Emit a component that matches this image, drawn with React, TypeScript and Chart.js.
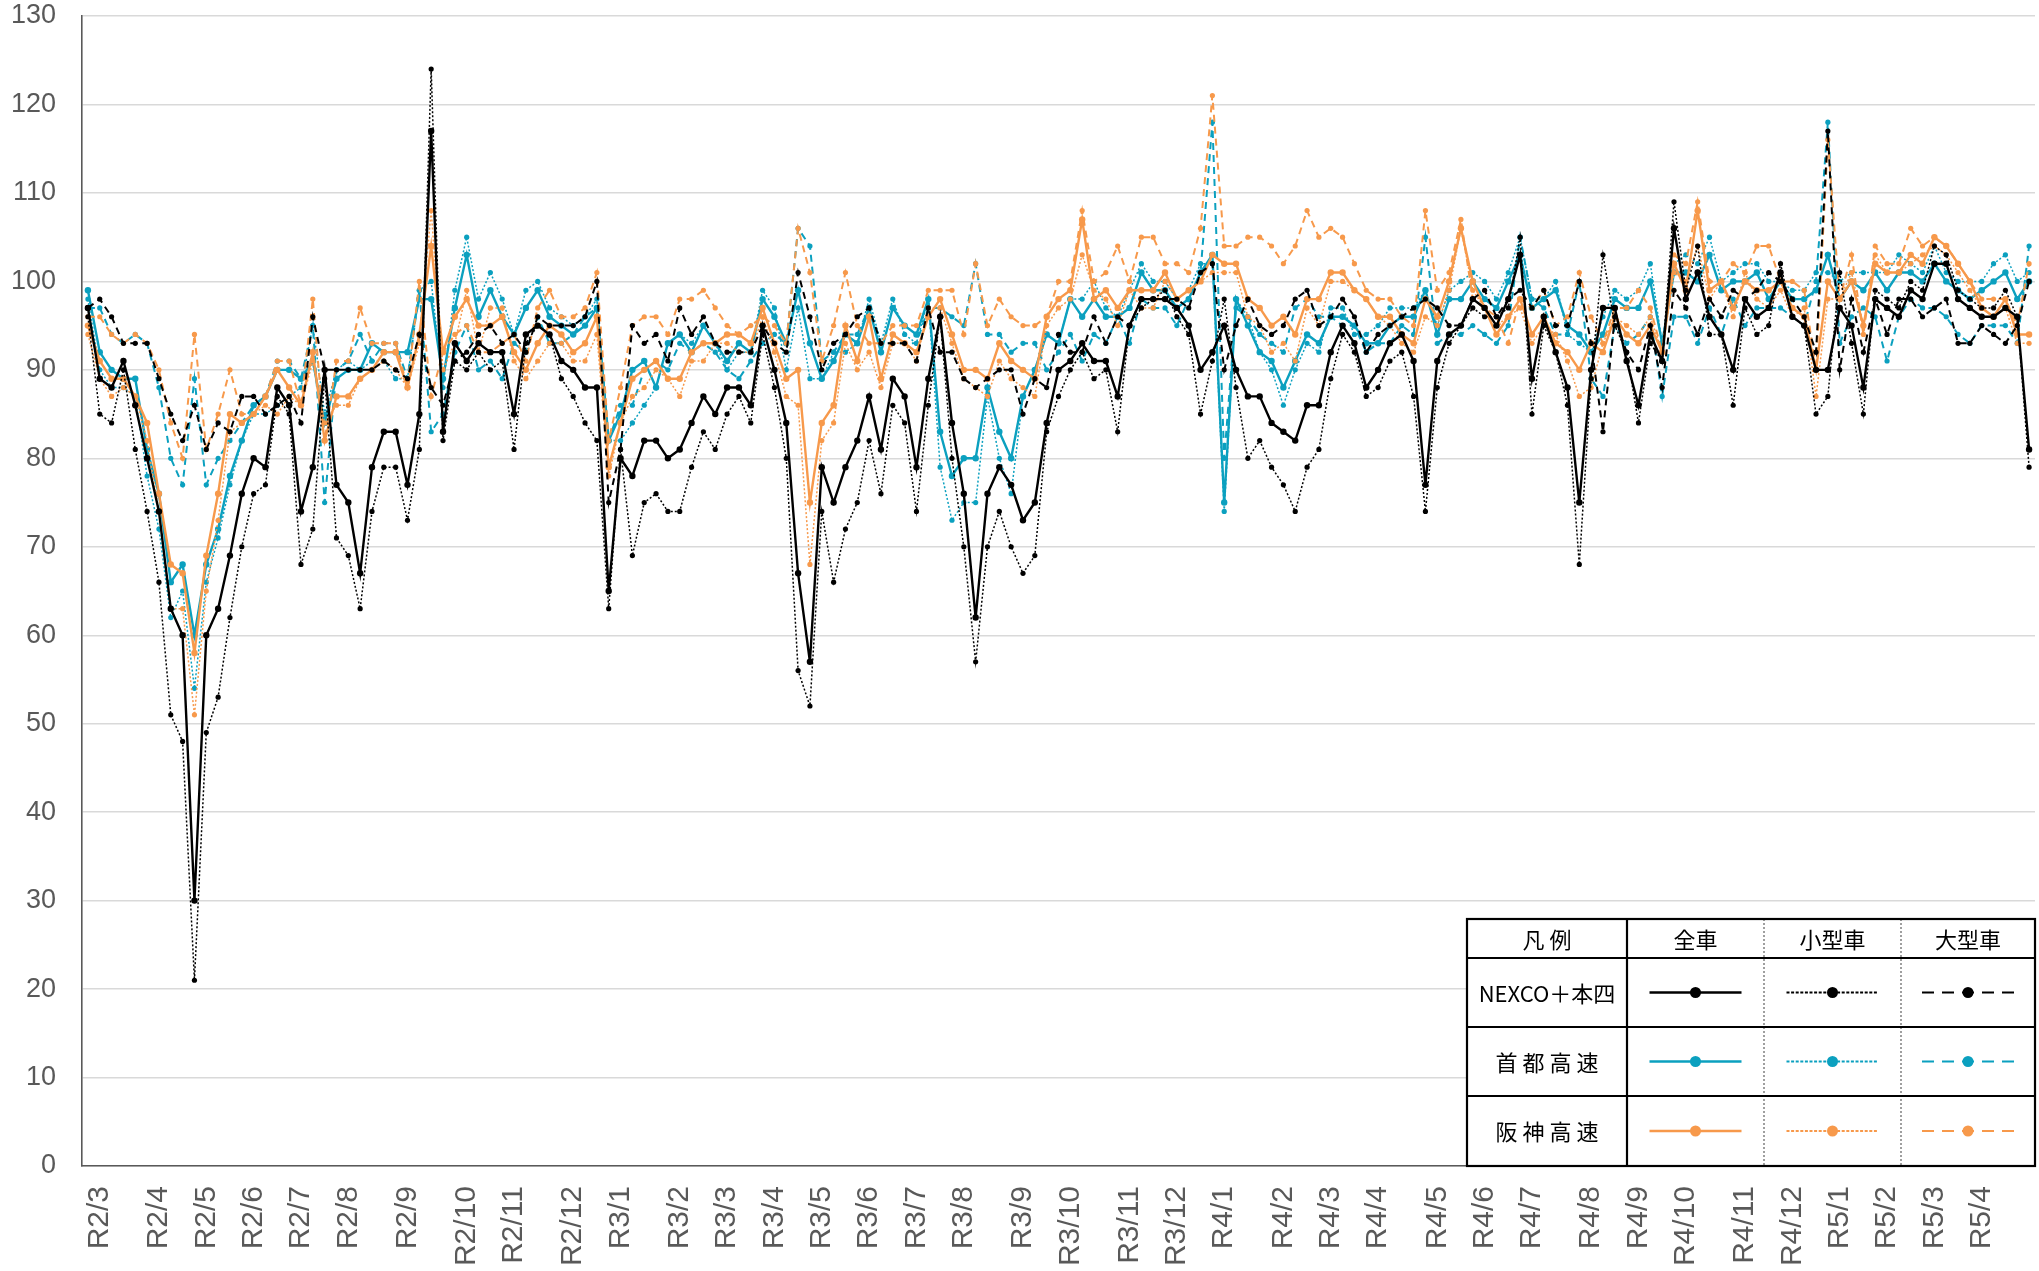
import React, { useEffect, useRef } from 'react';
import { Chart, registerables } from 'chart.js';

Chart.register(...registerables);

// ---- data ----
const monthLabels = [
  'R2/3', 'R2/4', 'R2/5', 'R2/6', 'R2/7', 'R2/8', 'R2/9', 'R2/10', 'R2/11', 'R2/12',
  'R3/1', 'R3/2', 'R3/3', 'R3/4', 'R3/5', 'R3/6', 'R3/7', 'R3/8', 'R3/9', 'R3/10', 'R3/11', 'R3/12',
  'R4/1', 'R4/2', 'R4/3', 'R4/4', 'R4/5', 'R4/6', 'R4/7', 'R4/8', 'R4/9', 'R4/10', 'R4/11', 'R4/12',
  'R5/1', 'R5/2', 'R5/3', 'R5/4',
];
// week index at which each month label appears
const monthStartWeek = [
  1, 6, 10, 14, 18, 22, 27, 32, 36, 41,
  45, 50, 54, 58, 62, 66, 70, 74, 79, 83, 88, 92,
  96, 101, 105, 109, 114, 118, 122, 127, 131, 135, 140, 144,
  148, 152, 156, 160,
];
const weekCount = 165;

const nexcoAll = [
  97, 89, 88, 91, 86, 80, 74, 63, 60, 30,
  60, 63, 69, 76, 80, 79, 88, 86, 74, 79,
  90, 77, 75, 67, 79, 83, 83, 77, 85, 117,
  83, 93, 91, 93, 92, 92, 85, 94, 95, 94,
  91, 90, 88, 88, 65, 80, 78, 82, 82, 80,
  81, 84, 87, 85, 88, 88, 86, 95, 90, 84,
  67, 57, 79, 75, 79, 82, 87, 81, 89, 87,
  79, 89, 96, 84, 76, 62, 76, 79, 77, 73,
  75, 84, 90, 91, 93, 91, 91, 87, 95, 98,
  98, 98, 97, 95, 90, 92, 95, 90, 87, 87,
  84, 83, 82, 86, 86, 92, 95, 93, 88, 90,
  93, 94, 91, 77, 91, 94, 95, 98, 97, 95,
  98, 103, 89, 96, 92, 88, 75, 90, 97, 97,
  91, 86, 94, 91, 106, 98, 101, 96, 94, 90,
  98, 96, 97, 101, 96, 95, 90, 90, 97, 95,
  88, 98, 97, 96, 99, 98, 102, 102, 98, 97,
  96, 96, 97, 96, 81,
];
const nexcoSmall = [
  96, 85, 84, 90, 81, 74, 66, 51, 48, 21,
  49, 53, 62, 70, 76, 77, 87, 85, 68, 72,
  89, 71, 69, 63, 74, 79, 79, 73, 81, 124,
  82, 91, 90, 92, 90, 91, 81, 93, 95, 94,
  89, 87, 84, 82, 63, 81, 69, 75, 76, 74,
  74, 79, 83, 81, 85, 87, 84, 94, 88, 80,
  56, 52, 74, 66, 72, 75, 82, 76, 86, 84,
  74, 86, 96, 80, 70, 57, 70, 74, 70, 67,
  69, 83, 87, 90, 92, 89, 90, 83, 95, 97,
  98, 99, 96, 94, 85, 91, 98, 88, 80, 82,
  79, 77, 74, 79, 81, 89, 94, 92, 87, 88,
  91, 92, 87, 74, 88, 93, 95, 97, 96, 96,
  97, 105, 85, 95, 92, 86, 68, 89, 103, 95,
  92, 84, 93, 91, 109, 99, 104, 94, 94, 86,
  97, 94, 95, 102, 96, 95, 85, 87, 101, 93,
  85, 99, 98, 97, 100, 99, 104, 103, 99, 98,
  97, 97, 99, 96, 79,
];
const nexcoLarge = [
  97, 98, 96, 93, 93, 93, 89, 85, 82, 86,
  81, 84, 83, 87, 87, 85, 86, 87, 84, 96,
  90, 90, 90, 90, 90, 91, 90, 89, 94, 88,
  86, 91, 92, 94, 95, 93, 94, 92, 96, 95,
  95, 95, 96, 100, 75, 81, 95, 93, 94, 91,
  97, 94, 96, 93, 92, 92, 92, 95, 93, 92,
  101, 96, 90, 93, 94, 96, 97, 93, 93, 93,
  91, 97, 92, 92, 89, 88, 89, 90, 90, 85,
  89, 88, 94, 92, 92, 96, 93, 96, 95, 98,
  98, 98, 98, 97, 101, 102, 90, 95, 98, 95,
  94, 95, 98, 99, 95, 96, 98, 96, 92, 94,
  95, 96, 97, 98, 97, 95, 95, 98, 99, 96,
  98, 99, 97, 99, 95, 95, 100, 93, 83, 96,
  92, 90, 95, 88, 99, 97, 94, 98, 96, 99,
  98, 99, 101, 100, 98, 96, 92, 117, 90, 98,
  92, 98, 94, 98, 98, 96, 97, 98, 93, 93,
  95, 94, 93, 95, 100,
];
const shutoAll = [
  99, 92, 90, 89, 89, 81, 76, 66, 68, 60,
  68, 72, 78, 82, 86, 87, 90, 90, 89, 91,
  84, 89, 90, 90, 93, 92, 92, 92, 98, 98,
  89, 97, 103, 96, 99, 96, 94, 97, 99, 96,
  95, 94, 95, 97, 82, 85, 90, 91, 88, 93,
  94, 92, 95, 93, 91, 93, 92, 98, 96, 93,
  99, 93, 89, 91, 94, 93, 97, 92, 97, 95,
  94, 98, 83, 78, 80, 80, 88, 83, 80, 87,
  90, 94, 93, 98, 96, 98, 96, 96, 97, 101,
  99, 99, 97, 98, 101, 103, 75, 98, 95, 92,
  91, 88, 91, 94, 93, 96, 96, 95, 93, 93,
  95, 96, 96, 99, 94, 98, 98, 100, 98, 97,
  100, 103, 97, 98, 99, 95, 94, 92, 94, 98,
  97, 97, 100, 93, 101, 101, 100, 103, 99, 100,
  100, 101, 98, 100, 98, 98, 99, 103, 98, 100,
  99, 101, 99, 101, 101, 100, 102, 100, 99, 98,
  99, 100, 101, 98, 100,
];
const shutoSmall = [
  98, 90, 88, 88, 87, 78, 72, 62, 65, 54,
  66, 71, 77, 82, 85, 85, 86, 87, 88, 95,
  85, 90, 91, 90, 91, 91, 89, 89, 99, 100,
  88, 99, 105, 98, 101, 98, 94, 99, 100, 97,
  96, 95, 96, 98, 82, 82, 84, 86, 88, 93,
  94, 93, 95, 93, 90, 92, 92, 99, 97, 90,
  97, 89, 89, 92, 92, 93, 98, 93, 98, 94,
  93, 98, 79, 73, 75, 75, 87, 80, 76, 87,
  90, 94, 93, 98, 98, 100, 97, 96, 99, 102,
  100, 100, 98, 99, 102, 102, 74, 98, 96, 92,
  90, 86, 90, 93, 92, 97, 97, 94, 94, 95,
  97, 97, 97, 99, 95, 99, 100, 101, 100, 98,
  101, 105, 98, 98, 100, 94, 93, 92, 96, 99,
  98, 99, 102, 93, 102, 103, 102, 105, 100, 101,
  102, 102, 100, 100, 99, 99, 101, 101, 100, 101,
  101, 101, 101, 103, 102, 101, 104, 101, 100, 100,
  100, 102, 103, 100, 101,
];
const shutoLarge = [
  97, 97, 94, 93, 94, 93, 88, 80, 77, 89,
  77, 80, 82, 84, 86, 87, 91, 91, 89, 95,
  75, 90, 91, 94, 91, 93, 93, 89, 99, 83,
  85, 92, 95, 90, 91, 89, 93, 92, 96, 93,
  93, 94, 96, 97, 82, 86, 86, 90, 91, 90,
  93, 92, 93, 92, 90, 89, 91, 93, 94, 93,
  106, 104, 91, 92, 94, 94, 97, 93, 93, 93,
  93, 97, 97, 96, 95, 102, 94, 94, 92, 93,
  93, 90, 92, 94, 91, 94, 93, 96, 93, 98,
  97, 97, 95, 98, 101, 118, 80, 97, 96, 94,
  93, 92, 97, 98, 96, 96, 95, 95, 92, 93,
  93, 95, 94, 105, 93, 94, 94, 95, 94, 93,
  95, 105, 98, 97, 94, 94, 100, 89, 87, 95,
  93, 94, 96, 87, 96, 96, 93, 97, 94, 98,
  95, 97, 97, 97, 96, 95, 100, 118, 93, 96,
  97, 96, 91, 96, 98, 97, 97, 96, 94, 93,
  95, 95, 95, 93, 104,
];
const hanshinAll = [
  95, 91, 89, 89, 87, 84, 76, 68, 67, 58,
  69, 76, 85, 84, 85, 87, 90, 88, 86, 92,
  82, 87, 87, 89, 90, 92, 92, 88, 94, 104,
  92, 96, 98, 95, 95, 96, 92, 90, 93, 95,
  94, 92, 93, 96, 79, 84, 89, 90, 91, 89,
  89, 92, 93, 93, 94, 94, 93, 97, 93, 89,
  90, 75, 84, 86, 95, 91, 96, 89, 94, 93,
  92, 96, 98, 94, 90, 90, 89, 93, 91, 90,
  89, 96, 98, 99, 107, 98, 99, 97, 99, 99,
  99, 101, 98, 99, 100, 103, 102, 102, 98, 97,
  95, 96, 94, 98, 98, 101, 101, 99, 98, 96,
  96, 94, 93, 98, 96, 100, 106, 100, 97, 94,
  96, 98, 94, 96, 93, 92, 90, 93, 92, 96,
  94, 93, 95, 92, 102, 99, 108, 99, 100, 97,
  100, 99, 99, 100, 97, 96, 90, 100, 98, 100,
  95, 102, 101, 101, 103, 102, 105, 104, 102, 100,
  97, 96, 98, 94, 94,
];
const hanshinSmall = [
  94, 89, 87, 88, 87, 82, 74, 63, 63, 51,
  65, 73, 83, 84, 85, 86, 85, 87, 86, 91,
  84, 86, 86, 89, 90, 91, 90, 88, 93, 108,
  90, 93, 99, 92, 97, 97, 91, 89, 91, 93,
  93, 91, 91, 94, 78, 84, 87, 88, 90, 89,
  87, 91, 91, 93, 93, 92, 92, 96, 92, 87,
  86, 68, 82, 84, 93, 90, 92, 88, 93, 93,
  91, 97, 97, 93, 89, 88, 87, 91, 89, 88,
  87, 95, 97, 98, 103, 99, 98, 95, 99, 97,
  97, 100, 98, 99, 100, 101, 101, 101, 96, 95,
  92, 93, 91, 97, 95, 100, 100, 99, 98, 96,
  95, 93, 92, 96, 95, 99, 106, 99, 97, 95,
  96, 97, 93, 95, 94, 91, 87, 88, 93, 96,
  95, 94, 96, 92, 101, 100, 104, 98, 100, 96,
  101, 98, 97, 99, 96, 97, 87, 98, 98, 101,
  95, 103, 101, 101, 102, 103, 104, 103, 101, 99,
  97, 96, 97, 93, 93,
];
const hanshinLarge = [
  96, 96, 94, 93, 94, 93, 90, 84, 80, 94,
  81, 85, 90, 85, 85, 87, 91, 91, 86, 98,
  82, 91, 91, 97, 93, 93, 93, 88, 100, 87,
  92, 94, 95, 92, 92, 93, 94, 91, 97, 99,
  96, 96, 97, 101, 82, 88, 95, 96, 96, 94,
  98, 98, 99, 97, 95, 94, 95, 96, 95, 93,
  106, 101, 91, 95, 101, 95, 93, 93, 95, 95,
  95, 99, 99, 99, 94, 102, 95, 98, 96, 95,
  95, 96, 100, 100, 108, 100, 101, 104, 100, 105,
  105, 102, 102, 101, 106, 121, 104, 104, 105, 105,
  104, 102, 104, 108, 105, 106, 105, 102, 99, 98,
  98, 96, 95, 108, 99, 101, 107, 98, 97, 96,
  93, 98, 97, 99, 95, 96, 101, 96, 93, 97,
  97, 99, 97, 92, 103, 102, 109, 100, 100, 102,
  101, 104, 104, 100, 100, 99, 90, 116, 98, 103,
  94, 104, 102, 102, 106, 104, 105, 104, 102, 100,
  98, 98, 98, 95, 102,
];

const roadNames = ['NEXCO＋本四', '首 都 高 速', '阪 神 高 速'];
const typeNames = ['全車', '小型車', '大型車'];

// ---- styles ----
const BLACK = '#000000';
const TEAL = '#0ba0bf';
const ORANGE = '#f7994b';
const roadColors = [BLACK, TEAL, ORANGE];

const styleDefs = [
  { width: 2.4, dash: [] as number[], radius: 3.2, legendDash: [] as number[], legendWidth: 2.6 },
  { width: 1.5, dash: [2, 2], radius: 2.6, legendDash: [3, 1.6], legendWidth: 2 },
  { width: 2, dash: [7, 5], radius: 2.6, legendDash: [12, 8], legendWidth: 2.2 },
];

const AXIS_GRAY = '#595959';

const legendTablePlugin = {
  id: 'legendTable',
  afterDraw(chart: any) {
    const ctx = chart.ctx as CanvasRenderingContext2D;
    const area = chart.chartArea;
    const colW = [160, 137, 137, 134];
    const rowH = [39, 69, 69, 70];
    const totalW = colW.reduce((a, b) => a + b, 0);
    const totalH = rowH.reduce((a, b) => a + b, 0);
    const right = area.right;
    const bottom = area.bottom;
    const left = right - totalW;
    const top = bottom - totalH;
    const xs = [left];
    colW.forEach((w) => xs.push(xs[xs.length - 1] + w));
    const ys = [top];
    rowH.forEach((h) => ys.push(ys[ys.length - 1] + h));

    ctx.save();
    ctx.fillStyle = '#ffffff';
    ctx.fillRect(left, top, totalW, totalH);

    // dotted inner vertical dividers
    ctx.strokeStyle = '#808080';
    ctx.lineWidth = 1.5;
    ctx.setLineDash([2, 2]);
    [xs[2], xs[3]].forEach((x) => {
      ctx.beginPath();
      ctx.moveTo(x, top);
      ctx.lineTo(x, bottom);
      ctx.stroke();
    });
    ctx.setLineDash([]);

    // solid black lines
    ctx.strokeStyle = '#000000';
    ctx.lineWidth = 2.2;
    ctx.strokeRect(left, top, totalW, totalH);
    for (let r = 1; r < ys.length - 1; r++) {
      ctx.beginPath();
      ctx.moveTo(left, ys[r]);
      ctx.lineTo(right, ys[r]);
      ctx.stroke();
    }
    ctx.beginPath();
    ctx.moveTo(xs[1], top);
    ctx.lineTo(xs[1], bottom);
    ctx.stroke();

    // texts
    ctx.fillStyle = '#000000';
    ctx.textAlign = 'center';
    ctx.textBaseline = 'middle';
    ctx.font = '22px "Noto Sans CJK JP", "Noto Sans", sans-serif';
    const headers = ['凡 例', ...typeNames];
    headers.forEach((t, c) => {
      ctx.fillText(t, (xs[c] + xs[c + 1]) / 2, (ys[0] + ys[1]) / 2 + 1);
    });
    roadNames.forEach((t, r) => {
      ctx.fillText(t, (xs[0] + xs[1]) / 2, (ys[r + 1] + ys[r + 2]) / 2 + 1);
    });

    // samples
    roadColors.forEach((color, r) => {
      const cy = (ys[r + 1] + ys[r + 2]) / 2;
      styleDefs.forEach((st, c) => {
        const cx = (xs[c + 1] + xs[c + 2]) / 2;
        ctx.strokeStyle = color;
        ctx.lineWidth = st.legendWidth;
        ctx.setLineDash(st.legendDash);
        ctx.beginPath();
        ctx.moveTo(cx - 46, cy);
        ctx.lineTo(cx + 46, cy);
        ctx.stroke();
        ctx.setLineDash([]);
        ctx.fillStyle = color;
        ctx.beginPath();
        ctx.arc(cx, cy, 5.5, 0, Math.PI * 2);
        ctx.fill();
      });
    });
    ctx.restore();
  },
};

export default function App() {
  const canvasRef = useRef<HTMLCanvasElement | null>(null);

  useEffect(() => {
    if (!canvasRef.current) return;
    const labels: string[] = [];
    for (let i = 0; i < weekCount; i++) labels.push('');
    monthStartWeek.forEach((w, i) => {
      labels[w] = monthLabels[i];
    });

    const seriesGrid = [
      [nexcoAll, nexcoSmall, nexcoLarge],
      [shutoAll, shutoSmall, shutoLarge],
      [hanshinAll, hanshinSmall, hanshinLarge],
    ];
    const datasets: any[] = [];
    // first dataset is drawn on top: black, then orange, then teal
    const drawOrder = [0, 2, 1];
    drawOrder.forEach((r) => {
      [0, 1, 2].forEach((c) => {
        const st = styleDefs[c];
        datasets.push({
          label: roadNames[r] + ' ' + typeNames[c],
          data: seriesGrid[r][c],
          borderColor: roadColors[r],
          backgroundColor: roadColors[r],
          borderWidth: st.width,
          borderDash: st.dash,
          pointRadius: st.radius,
          pointBackgroundColor: roadColors[r],
          pointBorderWidth: 0,
          pointHoverRadius: st.radius,
          tension: 0,
          fill: false,
        });
      });
    });

    const chart = new Chart(canvasRef.current, {
      type: 'line',
      data: { labels, datasets },
      plugins: [legendTablePlugin],
      options: {
        animation: false,
        responsive: false,
        maintainAspectRatio: false,
        events: [],
        layout: { padding: { top: 16, right: 4, left: 0, bottom: 0 } },
        plugins: {
          legend: { display: false },
          tooltip: { enabled: false },
          title: { display: false },
        },
        scales: {
          x: {
            type: 'category',
            offset: true,
            grid: { display: false, drawTicks: false, offset: false },
            border: { display: true, color: AXIS_GRAY, width: 1.6 },
            ticks: {
              autoSkip: false,
              maxRotation: 90,
              minRotation: 90,
              padding: 20,
              color: AXIS_GRAY,
              font: { family: 'Arial, "Liberation Sans", sans-serif', size: 30 },
            },
            afterFit: (scale: any) => {
              scale.height = 105;
              scale.paddingLeft = 0;
              scale.paddingRight = 0;
              scale.paddingTop = 0;
              scale.paddingBottom = 0;
            },
          },
          y: {
            min: 0,
            max: 130,
            grid: { color: '#d9d9d9', lineWidth: 1.4, drawTicks: false },
            border: { display: true, color: AXIS_GRAY, width: 1.6 },
            ticks: {
              stepSize: 10,
              padding: 26,
              color: AXIS_GRAY,
              font: { family: 'Arial, "Liberation Sans", sans-serif', size: 27 },
            },
            afterFit: (scale: any) => {
              scale.width = 82;
              scale.paddingLeft = 0;
              scale.paddingRight = 0;
              scale.paddingTop = 0;
              scale.paddingBottom = 0;
            },
          },
        },
      },
    });
    return () => chart.destroy();
  }, []);

  return (
    <div style={{ position: 'fixed', left: 0, top: 0, width: 2039, height: 1271, background: '#ffffff' }}>
      <canvas ref={canvasRef} width={2039} height={1271} style={{ display: 'block', width: 2039, height: 1271 }} />
    </div>
  );
}
